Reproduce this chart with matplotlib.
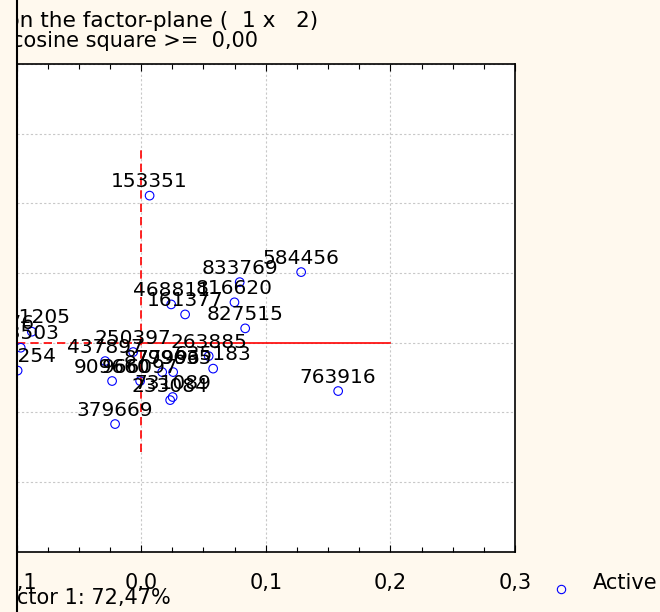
import matplotlib.pyplot as plt
from matplotlib.lines import Line2D
from matplotlib.patches import Rectangle
from matplotlib.ticker import FuncFormatter, MultipleLocator

plt.rcParams['font.family'] = ['DejaVu Sans']

# case coordinates on the factor plane
case_ids = ['153351', '584456', '833769', '816620', '468811', '161377',
            '827515', '621205', '283503', '460254', '250397', '437897',
            '263885', '635183', '966097', '909660', '877996', '799635',
            '233084', '731089', '379669', '763916', '441176']
factor1 = [0.0068, 0.1284, 0.0791, 0.0749, 0.0241, 0.0353,
           0.0835, -0.0877, -0.0966, -0.0991, -0.0064, -0.0289,
           0.0542, 0.0578, -0.0008, -0.0233, 0.0169, 0.0257,
           0.0233, 0.0253, -0.0209, 0.1581, -0.1167]
factor2 = [0.1055, 0.0506, 0.0434, 0.0289, 0.0274, 0.0202,
           0.0102, 0.0078, -0.0037, -0.0201, -0.0068, -0.0133,
           -0.0097, -0.0187, -0.0276, -0.0276, -0.0212, -0.0212,
           -0.0413, -0.0391, -0.0585, -0.0348, 0.0039]

x_range = (-0.1, 0.3)
y_range = (-0.15, 0.2)
vline_span = (-0.0786, 0.138)
hline_dashed = (-0.1, 0.0)
hline_solid = (0.0, 0.2)

title1 = 'Projection of the cases on the factor-plane (  1 x   2)'
title2 = 'Cases with sum of cosine square >=  0,00'
xlabel = 'Factor 1: 72,47%'

W, H, DPI = 660, 612, 100
BG = '#FFF9EE'

fig = plt.figure(figsize=(W / DPI, H / DPI), dpi=DPI, facecolor=BG)
ax = fig.add_axes([16.5 / W, 1 - 551.5 / H, (515 - 16.5) / W, (551.5 - 64) / H])
ax.set_facecolor('white')
ax.set_xlim(*x_range)
ax.set_ylim(*y_range)

ax.xaxis.set_major_locator(MultipleLocator(0.1))
ax.xaxis.set_minor_locator(MultipleLocator(0.025))
ax.yaxis.set_major_locator(MultipleLocator(0.05))


def comma_fmt(v, pos):
    if abs(v) < 1e-9:
        v = 0.0
    return f'{v:.1f}'.replace('.', ',')


ax.xaxis.set_major_formatter(FuncFormatter(comma_fmt))
ax.tick_params(axis='x', which='both', direction='in', top=True, bottom=True,
               labelsize=15, pad=15.5, width=0.8)
ax.tick_params(axis='x', which='major', length=5)
ax.tick_params(axis='x', which='minor', length=3.5)
ax.tick_params(axis='y', which='both', left=False, right=False, labelleft=False)
for sp in ax.spines.values():
    sp.set_linewidth(1.2)

ax.grid(True, which='major', color='#C8C8C8', linestyle=(0, (2, 2)), linewidth=0.8)

ax.plot([0, 0], vline_span, color='red', ls=(0, (5, 3)), lw=1.2, zorder=2)
ax.plot(hline_dashed, [0, 0], color='red', ls=(0, (5, 3)), lw=1.2, zorder=2)
ax.plot(hline_solid, [0, 0], color='red', lw=1.2, zorder=2)

ax.scatter(factor1, factor2, s=6.2 ** 2, facecolors='none', edgecolors='blue',
           linewidths=0.8, zorder=3)
for cid, x, y in zip(case_ids, factor1, factor2):
    ax.annotate(cid, (x, y), xytext=(0, 6), textcoords='offset points',
                ha='center', va='baseline', fontsize=14.5,
                clip_on=True, annotation_clip=False, zorder=4)

fig.text(318 / W, 1 - 26.7 / H, title1, ha='right', va='baseline', fontsize=15.6)
fig.text(258 / W, 1 - 46.7 / H, title2, ha='right', va='baseline', fontsize=15)
fig.text(171 / W, 1 - 603.5 / H, xlabel, ha='right', va='baseline', fontsize=15)

# legend
fig.add_artist(Line2D([561 / W], [1 - 589 / H], marker='o', ms=6, mfc='none',
                      mec='blue', mew=0.8, transform=fig.transFigure))
fig.text(592.5 / W, 1 - 588.8 / H, 'Active', va='baseline', fontsize=15)

# cropped left edge
fig.add_artist(Rectangle((0, 0), 16 / W, 1, transform=fig.transFigure,
                         facecolor=BG, edgecolor='none', zorder=10))
fig.add_artist(Line2D([16.5 / W, 16.5 / W], [0, 1], color='black', lw=1.5,
                      transform=fig.transFigure, zorder=11))

fig.savefig('out.png', dpi=DPI, facecolor=BG)
